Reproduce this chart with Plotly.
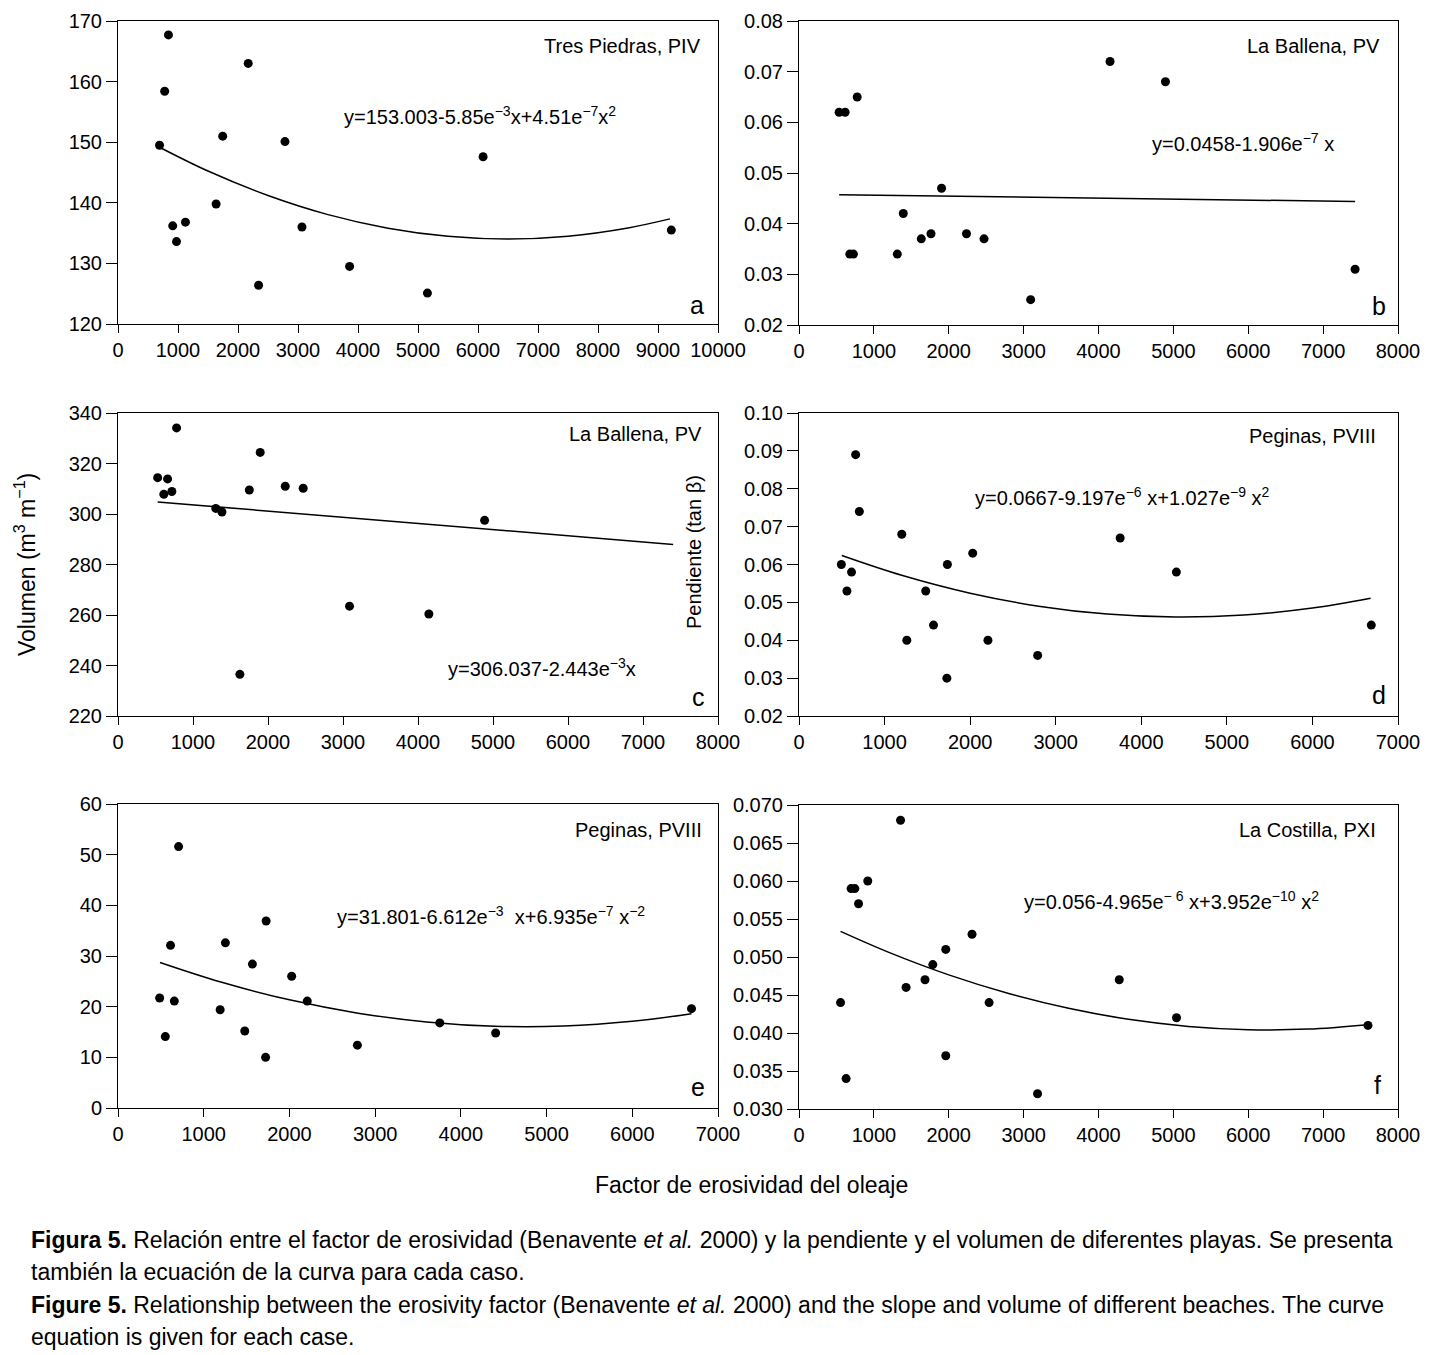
import plotly.graph_objects as go

W, H = 1443, 1355

# ---------------- data ----------------
a_x = [692, 841, 778, 912, 975, 1124, 1635, 1745, 2170, 2343, 2783, 3066, 3860, 5157, 6085, 9222]
a_y = [149.5, 167.7, 158.4, 136.2, 133.6, 136.8, 139.8, 151.0, 163.0, 126.4, 150.1, 136.0, 129.5, 125.1, 147.6, 135.5]
a_fit_x = [700, 1500, 2500, 3500, 4500, 5500, 6500, 7500, 8500, 9200]
a_fit_y = [149.13, 145.24, 141.20, 138.05, 135.81, 134.47, 134.03, 134.50, 135.86, 137.35]

b_x = [536, 616, 777, 678, 727, 1313, 1393, 1633, 1763, 1904, 2237, 2471, 3094, 4154, 4894, 7427]
b_y = [0.062, 0.062, 0.065, 0.034, 0.034, 0.034, 0.042, 0.037, 0.038, 0.047, 0.038, 0.037, 0.025, 0.072, 0.068, 0.031]
b_fit_x = [536, 7427]
b_fit_y = [0.04570, 0.04438]

c_x = [529, 611, 661, 718, 781, 1304, 1386, 1625, 1751, 1896, 2230, 2469, 3087, 4145, 4888]
c_y = [314.4, 307.8, 313.9, 308.9, 334.1, 302.2, 300.8, 236.5, 309.5, 324.4, 311.0, 310.2, 263.5, 260.4, 297.5]
c_fit_x = [529, 7402]
c_fit_y = [304.75, 287.96]

d_x = [495, 560, 614, 662, 705, 1201, 1260, 1481, 1572, 1734, 1728, 2030, 2208, 2789, 3753, 4410, 6688]
d_y = [0.060, 0.053, 0.058, 0.089, 0.074, 0.068, 0.040, 0.053, 0.044, 0.060, 0.030, 0.063, 0.040, 0.036, 0.067, 0.058, 0.044]
d_fit_x = [500, 1200, 2000, 2800, 3600, 4400, 5200, 6000, 6680]
d_fit_y = [0.06236, 0.05714, 0.05241, 0.04900, 0.04690, 0.04612, 0.04665, 0.04849, 0.05109]

e_x = [486, 552, 613, 657, 707, 1192, 1253, 1479, 1568, 1728, 1722, 2026, 2208, 2793, 3754, 4406, 6691]
e_y = [21.7, 14.1, 32.1, 21.1, 51.6, 19.4, 32.6, 15.2, 28.4, 36.9, 10.0, 26.0, 21.1, 12.4, 16.8, 14.8, 19.6]
e_fit_x = [490, 1200, 2000, 2800, 3600, 4400, 5200, 6000, 6690]
e_fit_y = [28.73, 24.87, 21.35, 18.72, 16.99, 16.13, 16.17, 17.10, 18.61]

f_x = [555, 629, 696, 746, 795, 918, 1356, 1430, 1683, 1787, 1960, 1960, 2311, 2539, 3186, 4277, 5042, 7599]
f_y = [0.044, 0.034, 0.059, 0.059, 0.057, 0.060, 0.068, 0.046, 0.047, 0.049, 0.051, 0.037, 0.053, 0.044, 0.032, 0.047, 0.042, 0.041]
f_fit_x = [555, 1200, 2000, 2800, 3600, 4400, 5200, 6000, 6800, 7600]
f_fit_y = [0.05337, 0.05061, 0.04765, 0.04520, 0.04325, 0.04180, 0.04087, 0.04044, 0.04051, 0.04109]

titles = ["Tres Piedras, PIV", "La Ballena, PV", "La Ballena, PV", "Peginas, PVIII", "Peginas, PVIII", "La Costilla, PXI"]
letters = ["a", "b", "c", "d", "e", "f"]
equations = [
    "y=153.003-5.85e<sup>\u22123</sup>x+4.51e<sup>\u22127</sup>x<sup>2</sup>",
    "y=0.0458-1.906e<sup>\u22127</sup> x",
    "y=306.037-2.443e<sup>\u22123</sup>x",
    "y=0.0667-9.197e<sup>\u22126</sup> x+1.027e<sup>\u22129</sup> x<sup>2</sup>",
    "y=31.801-6.612e<sup>\u22123</sup>  x+6.935e<sup>\u22127</sup> x<sup>\u22122</sup>",
    "y=0.056-4.965e<sup>\u2212 6</sup> x+3.952e<sup>\u221210</sup> x<sup>2</sup>",
]
x_ranges = [(0, 10000, 1000), (0, 8000, 1000), (0, 8000, 1000), (0, 7000, 1000), (0, 7000, 1000), (0, 8000, 1000)]
y_ranges = [(120, 170, 10, "d"), (0.02, 0.08, 0.01, ".2f"), (220, 340, 20, "d"),
            (0.02, 0.10, 0.01, ".2f"), (0, 60, 10, "d"), (0.030, 0.070, 0.005, ".3f")]

# ---------------- layout geometry (pixels) ----------------
boxes = [  # left, right, top, bottom
    (118, 718, 21, 324), (799, 1398, 21, 325),
    (118, 718, 413, 716), (799, 1398, 413, 716),
    (118, 718, 804, 1108), (799, 1398, 805, 1109),
]
title_pos = [(703, 46), (1382, 46), (704, 434), (1378, 436), (704, 830), (1378, 830)]
eq_pos = [(342, 116), (1150, 142), (446, 667), (973, 497), (335, 916), (1022, 900)]
letter_pos = [(706, 305), (1388, 306), (707, 697), (1388, 695), (707, 1087), (1383, 1085)]

FONT = "Liberation Sans, Arial, sans-serif"


def px(x):
    return x / W


def py(y):
    return 1 - y / H


series = [(a_x, a_y, a_fit_x, a_fit_y), (b_x, b_y, b_fit_x, b_fit_y), (c_x, c_y, c_fit_x, c_fit_y),
          (d_x, d_y, d_fit_x, d_fit_y), (e_x, e_y, e_fit_x, e_fit_y), (f_x, f_y, f_fit_x, f_fit_y)]

fig = go.Figure()
annotations = []
layout = {}
for i, (sx, sy, fx, fy) in enumerate(series):
    n = "" if i == 0 else str(i + 1)
    xa, ya = "x" + n, "y" + n
    fig.add_trace(go.Scatter(x=fx, y=fy, mode="lines", line=dict(color="black", width=1.5, shape="spline"),
                             xaxis=xa, yaxis=ya, showlegend=False, hoverinfo="skip"))
    fig.add_trace(go.Scatter(x=sx, y=sy, mode="markers", marker=dict(color="black", size=9),
                             xaxis=xa, yaxis=ya, showlegend=False))
    l, r, t, b = boxes[i]
    x0, x1, xd = x_ranges[i]
    y0, y1, yd, yf = y_ranges[i]
    layout["xaxis" + n] = dict(domain=[px(l), px(r)], range=[x0, x1], anchor=ya, dtick=xd, tick0=0,
                               tickformat="d", automargin=False,
                               showline=True, mirror=True, linecolor="black", linewidth=1,
                               ticks="outside", ticklen=8, tickcolor="black", showgrid=False, zeroline=False,
                               tickfont=dict(family=FONT, size=20, color="black"))
    layout["yaxis" + n] = dict(domain=[py(b), py(t)], range=[y0, y1], anchor=xa, dtick=yd, tick0=y0,
                               tickformat=yf, automargin=False,
                               showline=True, mirror=True, linecolor="black", linewidth=1,
                               ticks="outside", ticklen=11, tickcolor="black", showgrid=False, zeroline=False,
                               tickfont=dict(family=FONT, size=20, color="black"))
    tx, ty = title_pos[i]
    annotations.append(dict(text=titles[i], x=px(tx), y=py(ty), xref="paper", yref="paper",
                            xanchor="right", yanchor="middle", showarrow=False,
                            font=dict(family=FONT, size=20, color="black")))
    ex, ey = eq_pos[i]
    annotations.append(dict(text=equations[i], x=px(ex), y=py(ey), xref="paper", yref="paper",
                            xanchor="left", yanchor="middle", showarrow=False,
                            font=dict(family=FONT, size=20, color="black")))
    lx, ly = letter_pos[i]
    annotations.append(dict(text=letters[i], x=px(lx), y=py(ly), xref="paper", yref="paper",
                            xanchor="right", yanchor="middle", showarrow=False,
                            font=dict(family=FONT, size=25, color="black")))

# axis titles
annotations.append(dict(text="Volumen (m<sup>3</sup> m<sup>\u22121</sup>)", x=px(25), y=py(565),
                        xref="paper", yref="paper", textangle=-90, showarrow=False,
                        xanchor="center", yanchor="middle", font=dict(family=FONT, size=23, color="black")))
annotations.append(dict(text="Pendiente (tan \u03b2)", x=px(694), y=py(552),
                        xref="paper", yref="paper", textangle=-90, showarrow=False,
                        xanchor="center", yanchor="middle", font=dict(family=FONT, size=20, color="black")))
annotations.append(dict(text="Factor de erosividad del oleaje", x=px(751), y=py(1185),
                        xref="paper", yref="paper", showarrow=False,
                        xanchor="center", yanchor="middle", font=dict(family=FONT, size=23, color="black")))

caption_lines = [
    "<b>Figura 5.</b> Relación entre el factor de erosividad (Benavente <i>et al.</i> 2000) y la pendiente y el volumen de diferentes playas. Se presenta",
    "también la ecuación de la curva para cada caso.",
    "<b>Figure 5.</b> Relationship between the erosivity factor (Benavente <i>et al.</i> 2000) and the slope and volume of different beaches. The curve",
    "equation is given for each case.",
]
cap_y = [1240, 1272, 1305, 1337]
for txt, cy in zip(caption_lines, cap_y):
    annotations.append(dict(text=txt, x=px(29), y=py(cy), xref="paper", yref="paper", showarrow=False,
                            xanchor="left", yanchor="middle", align="left",
                            font=dict(family=FONT, size=23, color="black")))

fig.update_layout(template="none", width=W, height=H, margin=dict(l=0, r=0, t=0, b=0, pad=0),
                  paper_bgcolor="white", plot_bgcolor="white", annotations=annotations,
                  font=dict(family=FONT, color="black"), **layout)

fig.write_html("out.html", config={"displayModeBar": False},
               post_script="document.body.style.margin='0px';document.body.style.overflow='hidden';")
